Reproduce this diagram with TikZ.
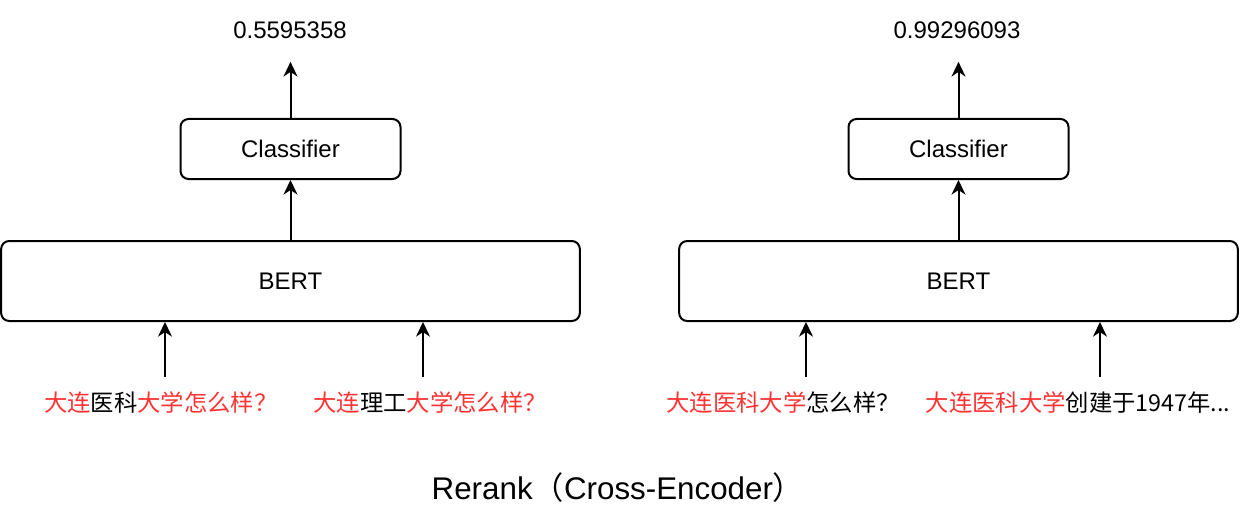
\documentclass[tikz,border=0pt]{standalone}
\usepackage{fontspec}
\setmainfont{Liberation Sans}
\newfontfamily\cjk{Noto Sans CJK SC}
\usepackage{tikz}
\usetikzlibrary{arrows.meta,positioning}
\usepackage{xcolor}
\definecolor{qred}{RGB}{255,51,51}
\tikzstyle{arrow} = [line width=1.5pt,-{Stealth[length=11pt,width=10.5pt,inset=3.5pt]}]
\tikzstyle{block} = [rectangle, rounded corners=6pt, draw, line width=1.5pt, text centered, font=\fontsize{18}{21}\selectfont]
\tikzstyle{bert} = [block, minimum height=60pt]
\tikzstyle{classifier} = [block, minimum width=165pt, minimum height=45pt]
\tikzstyle{score} = [font=\fontsize{18}{21}\selectfont]
\tikzstyle{query} = [font=\cjk\fontsize{17.5}{21}\selectfont]
\newcommand{\hl}[1]{\textcolor{qred}{#1}}

\begin{document}
\begin{tikzpicture}[x=0.75pt,y=-0.75pt]
\useasboundingbox (0,0) rectangle (1240,517);

% Left pair
\node (bertL) [bert, minimum width=434pt] at (290.5,281) {BERT};
\node (clsL) [classifier, above=45pt of bertL] {Classifier};
\node (scoreL) [score] at (290,30) {0.5595358};
\node (qL1) [query] at (161,403) {\hl{大连}医科\hl{大学怎么样？}};
\node (qL2) [query] at (430,403) {\hl{大连}理工\hl{大学怎么样？}};
\coordinate (inL1) at (165,377);
\coordinate (inL2) at (423,377);

\draw[arrow] (inL1) -- (inL1 |- bertL.south);
\draw[arrow] (inL2) -- (inL2 |- bertL.south);
\draw[arrow] (clsL.south |- bertL.north) -- (clsL.south);
\draw[arrow, shorten >=14pt] (clsL.north) -- (scoreL.south -| clsL.north);

% Right pair
\node (bertR) [bert, minimum width=419pt] at (958.5,281) {BERT};
\node (clsR) [classifier, above=45pt of bertR] {Classifier};
\node (scoreR) [score] at (957,30) {0.99296093};
\node (qR1) [query] at (783,403) {\hl{大连医科大学}怎么样？};
\node (qR2) [query] at (1078,403) {\hl{大连医科大学}创建于1947年...};
\coordinate (inR1) at (806,377);
\coordinate (inR2) at (1100,377);

\draw[arrow] (inR1) -- (inR1 |- bertR.south);
\draw[arrow] (inR2) -- (inR2 |- bertR.south);
\draw[arrow] (clsR.south |- bertR.north) -- (clsR.south);
\draw[arrow, shorten >=14pt] (clsR.north) -- (scoreR.south -| clsR.north);

\node (title) [font=\fontsize{23.5}{28}\selectfont] at (618,488) {Rerank{\cjk （}Cross-Encoder{\cjk ）}};
\end{tikzpicture}
\end{document}
